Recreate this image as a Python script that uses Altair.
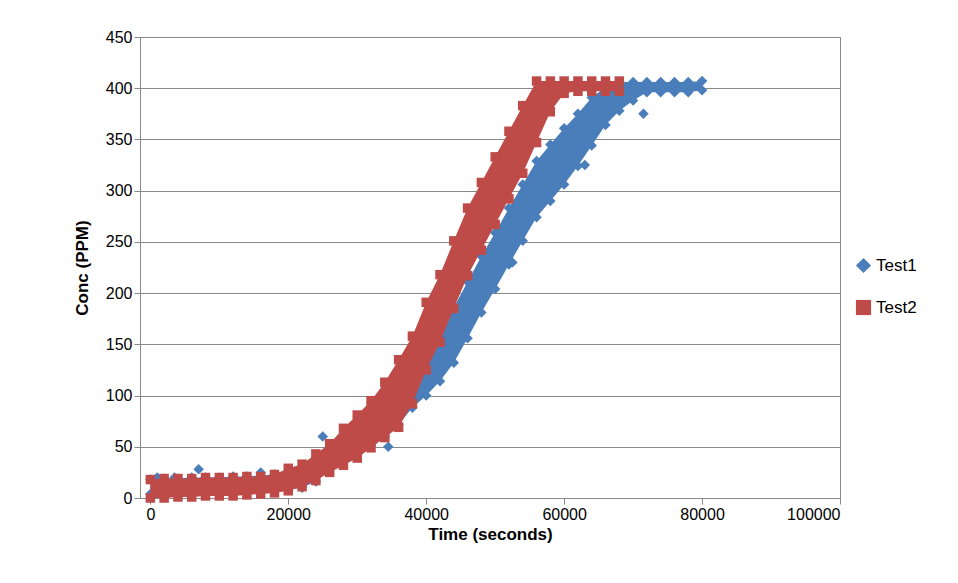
import altair as alt
import pandas as pd

# Readings: each series is a thick band of markers,
# so the lower and upper edge of the band are kept for each time (seconds)
t1_time = [0, 2000, 4000, 6000, 8000, 10000, 12000, 14000, 16000, 18000, 20000,
           22000, 24000, 26000, 28000, 30000, 32000, 34000, 36000, 38000, 40000,
           42000, 44000, 46000, 48000, 50000, 52000, 54000, 56000, 58000, 60000,
           62000, 64000, 66000, 68000, 70000, 72000, 74000, 76000, 78000, 80000]
t1_lo = [4, 4, 5, 5, 6, 6, 6, 7, 7, 8, 8, 10, 16, 28, 36, 42, 52, 60, 72, 88, 100,
         114, 132, 156, 181, 204, 228, 251, 274, 290, 306, 324, 344, 364, 378, 388,
         396, 396, 396, 396, 398]
t1_hi = [18, 19, 19, 20, 20, 20, 21, 21, 22, 23, 24, 27, 37, 47, 57, 67, 80, 100, 122,
         140, 155, 169, 186, 211, 236, 259, 283, 306, 329, 345, 361, 375, 391, 401,
         406, 406, 406, 406, 406, 406, 407]
# stray Test1 points
t1_odd_time = [1000, 3500, 7000, 16000, 25000, 34500, 52500, 53500, 63000, 71500]
t1_odd_conc = [20, 20, 28, 25, 60, 50, 230, 262, 325, 375]

t2_time = [0, 2000, 4000, 6000, 8000, 10000, 12000, 14000, 16000, 18000, 20000,
           22000, 24000, 26000, 28000, 30000, 32000, 34000, 36000, 38000, 40000,
           42000, 44000, 46000, 48000, 50000, 52000, 54000, 56000, 58000, 60000,
           62000, 64000, 66000, 68000]
t2_lo = [0, 0, 1, 1, 2, 2, 2, 3, 4, 5, 7, 11, 17, 25, 32, 39, 49, 59, 69, 92, 125,
         152, 185, 217, 242, 267, 292, 317, 347, 377, 395, 397, 397, 397, 397]
t2_hi = [18, 19, 19, 19, 20, 20, 20, 21, 21, 23, 29, 33, 43, 53, 68, 81, 95, 113, 135,
         158, 191, 218, 251, 283, 308, 333, 358, 383, 407, 407, 407, 407, 407, 407, 407]

colors = {'Test1': '#4a7ebb', 'Test2': '#be4b48'}

pts = pd.concat([
  pd.DataFrame({'time': t1_time, 'conc': t1_lo, 'series': 'Test1'}),
  pd.DataFrame({'time': t1_time, 'conc': t1_hi, 'series': 'Test1'}),
  pd.DataFrame({'time': t1_odd_time, 'conc': t1_odd_conc, 'series': 'Test1'}),
  pd.DataFrame({'time': t2_time, 'conc': t2_lo, 'series': 'Test2'}),
  pd.DataFrame({'time': t2_time, 'conc': t2_hi, 'series': 'Test2'}),
])
bands = {
  'Test1': pd.DataFrame({'time': t1_time, 'lo': t1_lo, 'hi': t1_hi}),
  'Test2': pd.DataFrame({'time': t2_time, 'lo': t2_lo, 'hi': t2_hi}),
}

x_enc = alt.X('time:Q', title='Time (seconds)',
              scale=alt.Scale(domain=[-1500, 100000], nice=False, zero=False),
              axis=alt.Axis(values=[0, 20000, 40000, 60000, 80000, 100000], grid=False,
                            format='d', labelFontSize=16, titleFontSize=17))
y_scale = alt.Scale(domain=[0, 450], nice=False)

layers = []
for name in ['Test1', 'Test2']:
  band = alt.Chart(bands[name]).mark_area(color=colors[name], opacity=1).encode(
    x=x_enc,
    y=alt.Y('lo:Q', scale=y_scale, title='Conc (PPM)'),
    y2='hi:Q',
  )
  marks = alt.Chart(pts).transform_filter(alt.datum.series == name).mark_point(
    filled=True, opacity=1, size=110 if name == 'Test1' else 90
  ).encode(
    x=x_enc,
    y=alt.Y('conc:Q', title='Conc (PPM)', scale=y_scale,
            axis=alt.Axis(values=list(range(0, 451, 50)), labelFontSize=16,
                          titleFontSize=17, titlePadding=14)),
    color=alt.Color('series:N', title=None,
                    scale=alt.Scale(domain=['Test1', 'Test2'],
                                    range=[colors['Test1'], colors['Test2']]),
                    legend=alt.Legend(orient='none', legendX=715, legendY=220,
                                      labelFontSize=17, symbolSize=230, rowPadding=24)),
    shape=alt.Shape('series:N',
                    scale=alt.Scale(domain=['Test1', 'Test2'], range=['diamond', 'square'])),
  )
  layers += [band, marks]

chart = alt.layer(*layers).properties(
  width=700, height=461,
  autosize=alt.AutoSizeParams(type='none'),
  padding={'left': 132, 'top': 29, 'right': 110, 'bottom': 77},
).configure_axis(
  labelFont='Liberation Sans', titleFont='Liberation Sans', titleFontWeight='bold',
  labelColor='#000', titleColor='#000', gridColor='#888', domainColor='#888',
  tickColor='#888', tickSize=6,
).configure_legend(
  labelFont='Liberation Sans', labelColor='#000',
).configure_view(stroke='#888')

chart.save('out.html', embed_options={'renderer': 'svg', 'actions': False})
